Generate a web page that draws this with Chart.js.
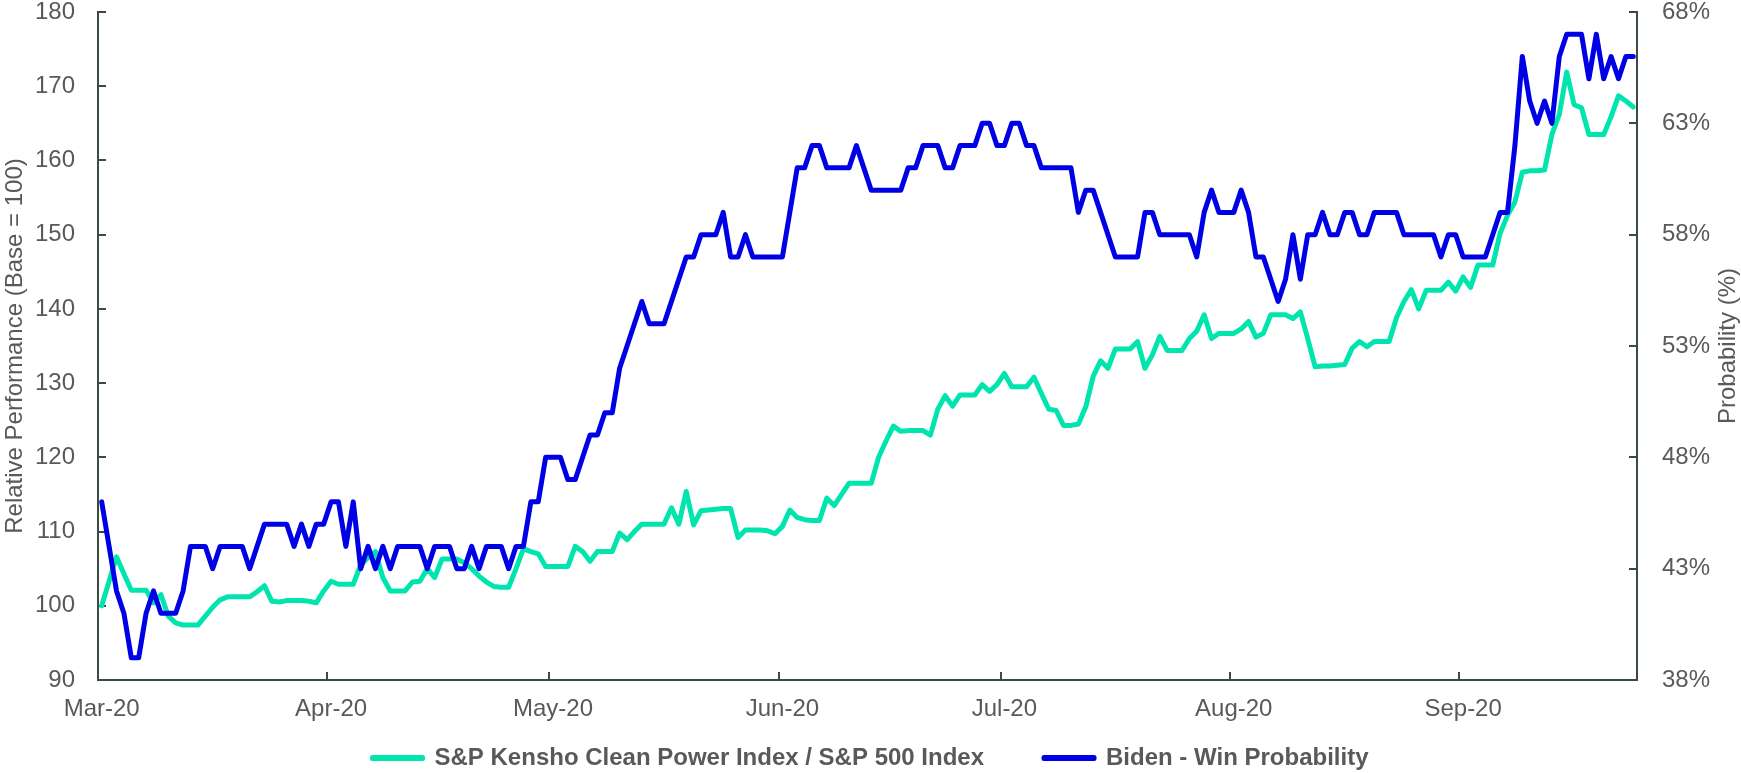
<!DOCTYPE html>
<html>
<head>
<meta charset="utf-8">
<script src="https://cdn.jsdelivr.net/npm/chart.js@4.4.0/dist/chart.umd.min.js"></script>
<style>
    html, body { margin: 0; padding: 0; background: #ffffff; }
    #perfPlot { display: block; }
</style>
</head>
<body>
<canvas id="perfPlot" width="1741" height="773"></canvas>
<script>
// One point per calendar day, starting 1 March 2020
var startDate = Date.UTC(2020, 2, 1);
var monthTickLabels = ['Mar-20', 'Apr-20', 'May-20', 'Jun-20', 'Jul-20', 'Aug-20', 'Sep-20'];

// S&P Kensho Clean Power Index / S&P 500 Index (base = 100), left axis
var cleanPower = [
    100.0, 103.3, 106.6, 104.3, 102.1, 102.1, 102.1, 100.4, 101.5, 98.6,
    97.7, 97.4, 97.4, 97.4, 98.6, 99.8, 100.8, 101.2, 101.2, 101.2,
    101.2, 101.9, 102.7, 100.6, 100.5, 100.7, 100.7, 100.7, 100.6, 100.4,
    102.0, 103.3, 102.9, 102.9, 102.9, 105.5, 106.5, 107.3, 103.8, 102.0,
    102.0, 102.0, 103.2, 103.3, 105.0, 103.8, 106.3, 106.3, 106.3, 105.8,
    105.0, 104.0, 103.2, 102.6, 102.5, 102.5, 105.0, 107.7, 107.3, 107.0,
    105.3, 105.3, 105.3, 105.3, 108.0, 107.3, 106.0, 107.3, 107.3, 107.3,
    109.8, 108.9, 110.0, 111.0, 111.0, 111.0, 111.0, 113.2, 111.0, 115.4,
    110.9, 112.8, 112.9, 113.0, 113.1, 113.1, 109.2, 110.2, 110.2, 110.2,
    110.1, 109.7, 110.7, 112.9, 111.9, 111.6, 111.5, 111.5, 114.5, 113.5,
    115.0, 116.5, 116.5, 116.5, 116.5, 120.0, 122.2, 124.2, 123.5, 123.6,
    123.6, 123.6, 123.0, 126.5, 128.3, 126.9, 128.4, 128.4, 128.4, 129.8,
    128.9, 129.8, 131.3, 129.5, 129.5, 129.5, 130.8, 128.6, 126.5, 126.3,
    124.3, 124.3, 124.5, 126.8, 130.9, 133.0, 132.0, 134.6, 134.6, 134.6,
    135.6, 132.0, 133.8, 136.3, 134.4, 134.4, 134.4, 136.0, 137.0, 139.2,
    136.0, 136.7, 136.7, 136.7, 137.3, 138.3, 136.2, 136.7, 139.2, 139.2,
    139.2, 138.7, 139.6, 136.0, 132.2, 132.3, 132.3, 132.4, 132.5, 134.7,
    135.6, 134.9, 135.6, 135.6, 135.6, 138.8, 141.0, 142.6, 140.0, 142.5,
    142.5, 142.5, 143.6, 142.4, 144.3, 142.9, 145.9, 145.9, 145.9, 150.2,
    152.6, 154.4, 158.4, 158.6, 158.6, 158.7, 163.5, 166.2, 171.9, 167.5,
    167.1, 163.5, 163.5, 163.5, 165.9, 168.7, 168.0, 167.2
];

// Biden - Win Probability (%), right axis
var bidenWinProb = [
    46, 44, 42, 41, 39, 39, 41, 42, 41, 41,
    41, 42, 44, 44, 44, 43, 44, 44, 44, 44,
    43, 44, 45, 45, 45, 45, 44, 45, 44, 45,
    45, 46, 46, 44, 46, 43, 44, 43, 44, 43,
    44, 44, 44, 44, 43, 44, 44, 44, 43, 43,
    44, 43, 44, 44, 44, 43, 44, 44, 46, 46,
    48, 48, 48, 47, 47, 48, 49, 49, 50, 50,
    52, 53, 54, 55, 54, 54, 54, 55, 56, 57,
    57, 58, 58, 58, 59, 57, 57, 58, 57, 57,
    57, 57, 57, 59, 61, 61, 62, 62, 61, 61,
    61, 61, 62, 61, 60, 60, 60, 60, 60, 61,
    61, 62, 62, 62, 61, 61, 62, 62, 62, 63,
    63, 62, 62, 63, 63, 62, 62, 61, 61, 61,
    61, 61, 59, 60, 60, 59, 58, 57, 57, 57,
    57, 59, 59, 58, 58, 58, 58, 58, 57, 59,
    60, 59, 59, 59, 60, 59, 57, 57, 56, 55,
    56, 58, 56, 58, 58, 59, 58, 58, 59, 59,
    58, 58, 59, 59, 59, 59, 58, 58, 58, 58,
    58, 57, 58, 58, 57, 57, 57, 57, 58, 59,
    59, 62, 66, 64, 63, 64, 63, 66, 67, 67,
    67, 65, 67, 65, 66, 65, 66, 66
];

var greenColor = '#00e5ae';
var blueColor = '#0000e6';
var textColor = '#595959';
var axisColor = '#3a4b40';
var fontFamily = '"Liberation Sans", Arial, sans-serif';

var dayLabels = [];
for (var i = 0; i < cleanPower.length; i++) {
    dayLabels.push(new Date(startDate + i * 86400000).toISOString().slice(0, 10));
}

// Excel style tick marks pointing into the plot, plus the right axis title
var insideTicks = {
    id: 'insideTicks',
    beforeDatasetsDraw: function(chart) {
        var ctx = chart.ctx;
        var area = chart.chartArea;
        var x = chart.scales.x, y = chart.scales.y, y1 = chart.scales.y1;
        var half = (x.getPixelForValue(1) - x.getPixelForValue(0)) / 2;

        ctx.save();
        ctx.strokeStyle = axisColor;
        ctx.lineWidth = 2;
        ctx.beginPath();
        chart.data.labels.forEach(function(lab, idx) {
            if (lab.slice(8) == '01') {
                var px = Math.round(x.getPixelForValue(idx) - half);
                ctx.moveTo(px, area.bottom);
                ctx.lineTo(px, area.bottom - 8);
            }
        });
        y.ticks.forEach(function(t) {
            var py = Math.round(y.getPixelForValue(t.value));
            ctx.moveTo(area.left, py);
            ctx.lineTo(area.left + 8, py);
        });
        y1.ticks.forEach(function(t) {
            var py = Math.round(y1.getPixelForValue(t.value));
            ctx.moveTo(area.right, py);
            ctx.lineTo(area.right - 8, py);
        });
        ctx.stroke();

        ctx.fillStyle = textColor;
        ctx.font = '24px ' + fontFamily;
        ctx.textAlign = 'center';
        ctx.textBaseline = 'middle';
        ctx.translate(y1.right - 13, (area.top + area.bottom) / 2);
        ctx.rotate(-Math.PI / 2);
        ctx.fillText('Probability (%)', 0, 0);
        ctx.restore();
    }
};

function noEdgePadding(scale) {
    scale.paddingTop = 0;
    scale.paddingBottom = 0;
}

new Chart(document.getElementById("perfPlot"), {
    type: "line",
    data: {
        labels: dayLabels,
        datasets: [{
            label: 'S&P Kensho Clean Power Index / S&P 500 Index',
            data: cleanPower,
            yAxisID: 'y',
            borderColor: greenColor,
            backgroundColor: greenColor,
            borderWidth: 5,
            borderJoinStyle: 'round',
            borderCapStyle: 'round',
            pointRadius: 0,
            tension: 0,
            order: 1
        }, {
            label: 'Biden - Win Probability',
            data: bidenWinProb,
            yAxisID: 'y1',
            borderColor: blueColor,
            backgroundColor: blueColor,
            borderWidth: 5,
            borderJoinStyle: 'round',
            borderCapStyle: 'round',
            pointRadius: 0,
            tension: 0,
            order: 0
        }]
    },
    options: {
        responsive: false,
        devicePixelRatio: 1,
        animation: false,
        layout: {
            padding: { top: 12, left: 0, right: 0, bottom: 0 }
        },
        plugins: {
            tooltip: { enabled: false },
            legend: {
                position: 'bottom',
                maxHeight: 87,
                labels: {
                    boxWidth: 50,
                    boxHeight: 1,
                    padding: 60,
                    color: textColor,
                    font: { family: fontFamily, size: 24, weight: 'bold' },
                    sort: function(a, b) { return a.datasetIndex - b.datasetIndex; }
                }
            }
        },
        scales: {
            x: {
                type: 'category',
                offset: true,
                grid: { display: false, drawTicks: false },
                border: { display: true, color: axisColor, width: 2 },
                ticks: {
                    autoSkip: false,
                    maxRotation: 0,
                    minRotation: 0,
                    // mirrored so the labels are not clipped to the thin axis box
                    mirror: true,
                    padding: -44,
                    color: textColor,
                    font: { family: fontFamily, size: 24 },
                    callback: function(value) {
                        var lab = this.getLabelForValue(value);
                        if (lab.slice(8) != '01')
                            return null;
                        return monthTickLabels[parseInt(lab.slice(5, 7), 10) - 3];
                    }
                },
                afterFit: function(scale) { scale.height = 6; }
            },
            y: {
                position: 'left',
                min: 90,
                max: 180,
                grid: { display: false, drawTicks: false },
                border: { display: true, color: axisColor, width: 2 },
                ticks: {
                    stepSize: 10,
                    padding: 23,
                    color: textColor,
                    font: { family: fontFamily, size: 24 }
                },
                title: {
                    display: true,
                    text: 'Relative Performance (Base = 100)',
                    color: textColor,
                    font: { family: fontFamily, size: 24 },
                    padding: { top: 1, bottom: 0 }
                },
                afterFit: function(scale) {
                    scale.width = 98;
                    noEdgePadding(scale);
                }
            },
            y1: {
                position: 'right',
                min: 38,
                max: 68,
                grid: { display: false, drawTicks: false },
                border: { display: true, color: axisColor, width: 2 },
                ticks: {
                    stepSize: 5,
                    padding: 25,
                    color: textColor,
                    font: { family: fontFamily, size: 24 },
                    callback: function(value) { return value + '%'; }
                },
                afterFit: function(scale) {
                    scale.width = 104;
                    noEdgePadding(scale);
                }
            }
        }
    },
    plugins: [insideTicks]
});
</script>
</body>
</html>
